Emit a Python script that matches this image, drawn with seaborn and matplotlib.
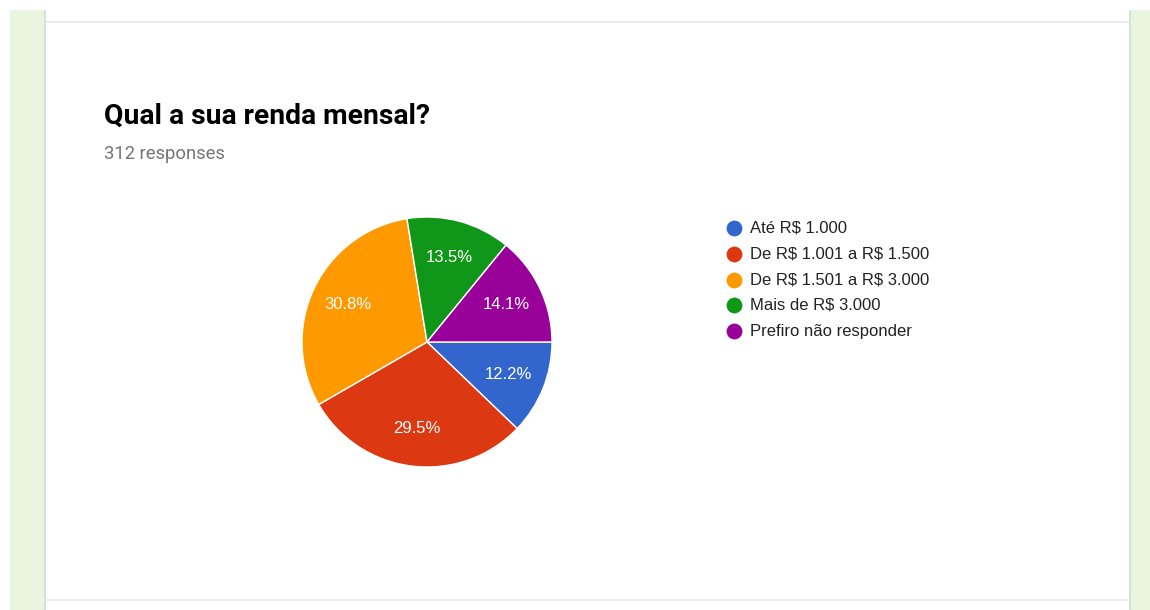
import matplotlib
matplotlib.use("Agg")
import matplotlib.pyplot as plt
from matplotlib.patches import Rectangle
import seaborn as sns

# Survey results: monthly income (312 responses)
categories = [
    "Até R$ 1.000",
    "De R$ 1.001 a R$ 1.500",
    "De R$ 1.501 a R$ 3.000",
    "Mais de R$ 3.000",
    "Prefiro não responder",
]
counts = [38, 92, 96, 42, 44]
colors = ["#3366cc", "#dc3912", "#ff9900", "#109618", "#990099"]
title = "Qual a sua renda mensal?"
subtitle = "312 responses"

sns.set_theme(style="white")
plt.rcParams["font.family"] = ["Liberation Sans", "DejaVu Sans"]
plt.rcParams["text.parse_math"] = False

W, H = 1150, 610
fig = plt.figure(figsize=(W / 100, H / 100), dpi=100)
fig.patch.set_facecolor("white")

# Page background in pixel coordinates
bg = fig.add_axes([0, 0, 1, 1])
bg.set_xlim(0, W)
bg.set_ylim(H, 0)
bg.axis("off")
strip = "#e9f5df"
bg.add_patch(Rectangle((10, 10), 34, H - 10, color=strip, lw=0))
bg.add_patch(Rectangle((1130, 10), 20, H - 10, color=strip, lw=0))
bg.add_patch(Rectangle((44, 10), 1.5, H - 10, color="#d9e2d2", lw=0))
bg.add_patch(Rectangle((1129, 10), 1.5, H - 10, color="#d9e2d2", lw=0))
bg.plot([45, 1129], [22, 22], color="#e6e6e6", lw=1.2)
bg.plot([45, 1129], [600, 600], color="#e6e6e6", lw=1.2)

bg.text(104, 116, title, fontsize=20.3, fontweight="bold", color="#000000",
        family=["Roboto", "DejaVu Sans"], va="center", ha="left",
        parse_math=False)
bg.text(104, 154, subtitle, fontsize=13.2, color="#757575",
        family=["Roboto", "DejaVu Sans"], va="center", ha="left",
        parse_math=False)

# Legend
for i, (lab, col) in enumerate(zip(categories, colors)):
    y = 228 + i * 25.8
    bg.scatter([734], [y], s=130, color=col, lw=0)
    bg.text(750, y, lab, fontsize=12, color="#222222", va="center", ha="left",
            parse_math=False)

# Pie
cx, cy, r = 427, 342, 125
ax = fig.add_axes([(cx - r) / W, (H - cy - r) / H, 2 * r / W, 2 * r / H])
wedges, texts, autotexts = ax.pie(
    counts,
    colors=colors,
    startangle=0,
    counterclock=False,
    autopct="%1.1f%%",
    pctdistance=0.7,
    wedgeprops=dict(edgecolor="white", linewidth=1),
    textprops=dict(color="white", fontsize=12),
)
ax.set_xlim(-1, 1)
ax.set_ylim(-1, 1)
ax.set_aspect("equal")
ax.axis("off")

fig.savefig("out.png", dpi=100)
